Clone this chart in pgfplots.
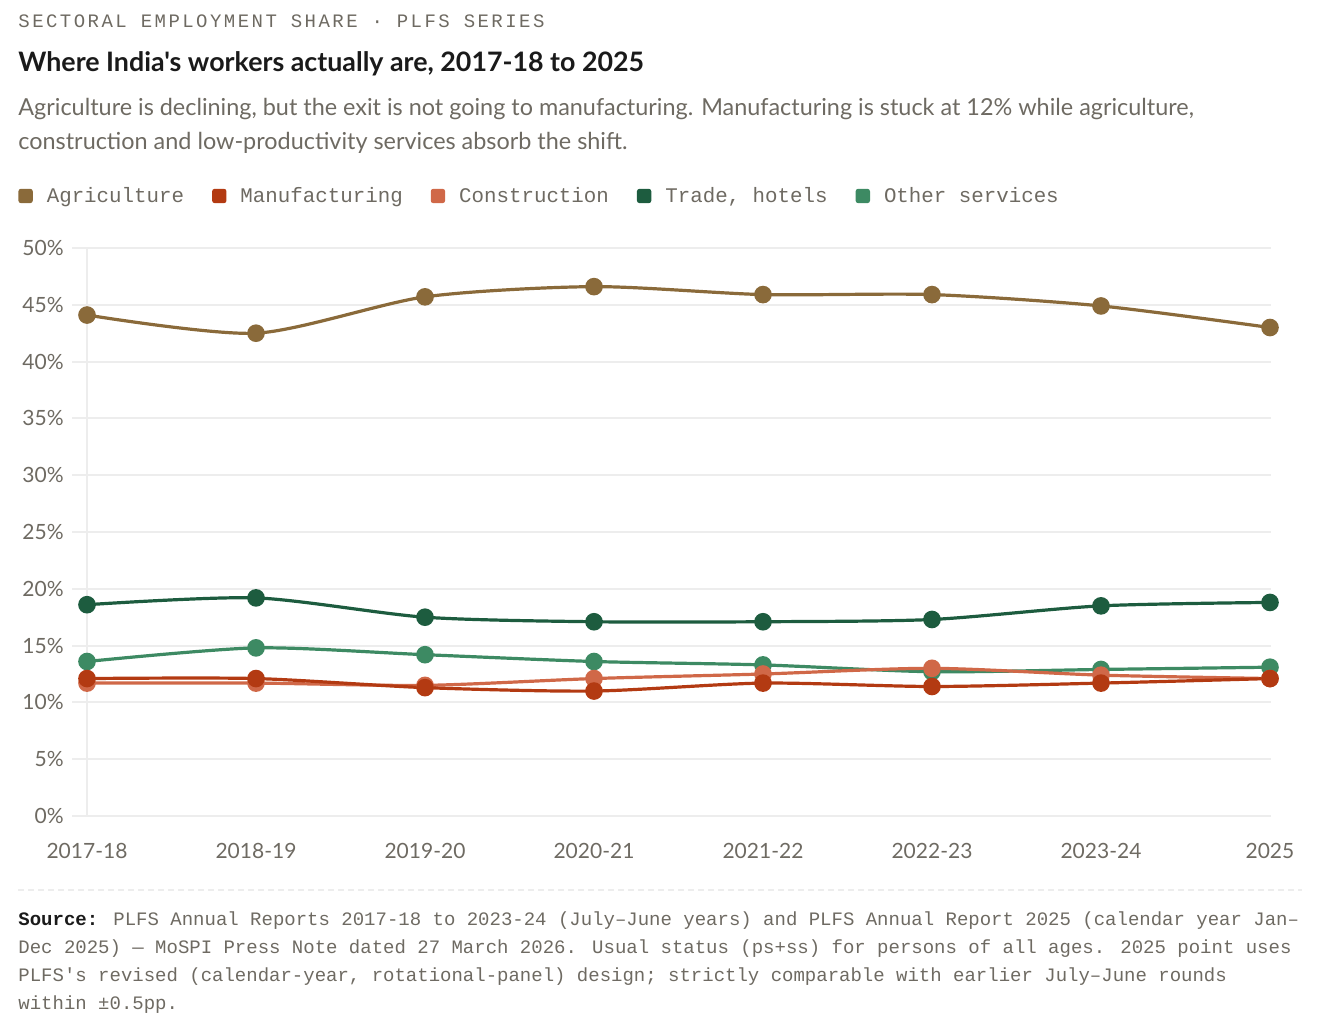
\documentclass[border=0pt]{standalone}
\usepackage{fontspec}
\newfontfamily\sans{Lato}
\newfontfamily\mono{Liberation Mono}
\newfontfamily\kick[LetterSpace=13]{Liberation Mono}
\usepackage{pgfplots}
\pgfplotsset{compat=1.18}
\definecolor{agri}{HTML}{8A6A3A}
\definecolor{manu}{HTML}{B33A12}
\definecolor{cons}{HTML}{D06848}
\definecolor{trade}{HTML}{1D5C3F}
\definecolor{other}{HTML}{3D8A63}
\definecolor{txtgray}{HTML}{6E6A62}
\definecolor{titlec}{HTML}{1A1A1A}
\definecolor{gridc}{HTML}{EDEDED}
\begin{document}
\begin{tikzpicture}
\path[use as bounding box] (0,0) rectangle (659pt,-513pt);
\node[anchor=base west, inner sep=0pt, text=txtgray, font=\kick\fontsize{9.5}{11}\selectfont] at (9pt,-13.8pt) {SECTORAL EMPLOYMENT SHARE · PLFS SERIES};
\node[anchor=base west, inner sep=0pt, text=titlec, font=\sans\bfseries\fontsize{13.4}{16}\selectfont] at (9pt,-36pt) {Where India's workers actually are, 2017-18 to 2025};
\node[anchor=base west, inner sep=0pt, text=txtgray, font=\sans\fontsize{11.7}{14}\selectfont] at (9pt,-58pt) {Agriculture is declining, but the exit is not going to manufacturing. Manufacturing is stuck at 12\% while agriculture,};
\node[anchor=base west, inner sep=0pt, text=txtgray, font=\sans\fontsize{11.7}{14}\selectfont] at (9pt,-75pt) {construction and low-productivity services absorb the shift.};
\begin{axis}[
  at={(36pt,-408pt)}, anchor=south west,
  scale only axis, width=599.5pt, height=284pt,
  xmin=-0.0888, xmax=7.006, ymin=0, ymax=50,
  clip=false,
  axis line style={draw=none}, tick style={draw=none},
  xtick={0,...,7},
  xticklabels={2017-18,2018-19,2019-20,2020-21,2021-22,2022-23,2023-24,2025},
  ytick={0,5,...,50},
  yticklabel={\pgfmathprintnumber{\tick}\%},
  /pgf/number format/assume math mode=true,
  tick label style={font=\sans\fontsize{10.5}{12}\selectfont, text=txtgray},
  yticklabel style={inner sep=0pt, xshift=-4pt},
  xticklabel style={inner sep=0pt, yshift=-13.5pt},
  ymajorgrids, major grid style={gridc, line width=1pt},
  extra x ticks={0}, extra x tick labels={}, extra x tick style={grid=major, major grid style={gridc, line width=1pt}},
  legend columns=5,
  legend style={at={(-0.04504,1.0916)}, anchor=west, draw=none, fill=none, inner sep=0pt,
    font=\mono\fontsize{10.4}{12}\selectfont, text=txtgray,
    /tikz/every odd column/.append style={column sep=7pt},
    /tikz/every even column/.append style={column sep=14pt},
    nodes={inner sep=0pt}},
  every axis plot/.append style={line width=1.6pt, smooth, tension=0.45, mark=*, mark size=3.6pt, mark options={solid}},
]
\addlegendimage{draw=none, fill=agri, legend image code/.code={\fill[rounded corners=1.3pt] (0pt,-3.6pt) rectangle (7.2pt,3.6pt);}}
\addlegendentry{Agriculture}
\addlegendimage{draw=none, fill=manu, legend image code/.code={\fill[rounded corners=1.3pt] (0pt,-3.6pt) rectangle (7.2pt,3.6pt);}}
\addlegendentry{Manufacturing}
\addlegendimage{draw=none, fill=cons, legend image code/.code={\fill[rounded corners=1.3pt] (0pt,-3.6pt) rectangle (7.2pt,3.6pt);}}
\addlegendentry{Construction}
\addlegendimage{draw=none, fill=trade, legend image code/.code={\fill[rounded corners=1.3pt] (0pt,-3.6pt) rectangle (7.2pt,3.6pt);}}
\addlegendentry{Trade, hotels}
\addlegendimage{draw=none, fill=other, legend image code/.code={\fill[rounded corners=1.3pt] (0pt,-3.6pt) rectangle (7.2pt,3.6pt);}}
\addlegendentry{Other services}
\addplot[agri, forget plot] coordinates {(0,44.1) (1,42.5) (2,45.7) (3,46.6) (4,45.9) (5,45.9) (6,44.9) (7,43.0)};
\addplot[trade, forget plot] coordinates {(0,18.6) (1,19.2) (2,17.5) (3,17.1) (4,17.1) (5,17.3) (6,18.5) (7,18.8)};
\addplot[other, forget plot] coordinates {(0,13.6) (1,14.8) (2,14.2) (3,13.6) (4,13.3) (5,12.7) (6,12.9) (7,13.1)};
\addplot[cons, forget plot] coordinates {(0,11.7) (1,11.7) (2,11.5) (3,12.1) (4,12.5) (5,13.0) (6,12.4) (7,12.1)};
\addplot[manu, forget plot] coordinates {(0,12.1) (1,12.1) (2,11.3) (3,11.0) (4,11.7) (5,11.4) (6,11.7) (7,12.1)};
\end{axis}
\draw[gridc, line width=1pt, dash pattern=on 3pt off 2pt] (9pt,-445pt) -- (651pt,-445pt);
\begin{scope}[every node/.style={anchor=base west, inner sep=0pt, text=txtgray, font=\mono\fontsize{9.5}{14}\selectfont}]
\node at (9pt,-462.5pt) {{\color{titlec}\bfseries Source:} PLFS Annual Reports 2017-18 to 2023-24 (July–June years) and PLFS Annual Report 2025 (calendar year Jan–};
\node at (9pt,-476.5pt) {Dec 2025) — MoSPI Press Note dated 27 March 2026. Usual status (ps+ss) for persons of all ages. 2025 point uses};
\node at (9pt,-490.5pt) {PLFS's revised (calendar-year, rotational-panel) design; strictly comparable with earlier July–June rounds};
\node at (9pt,-504.5pt) {within ±0.5pp.};
\end{scope}
\end{tikzpicture}
\end{document}
